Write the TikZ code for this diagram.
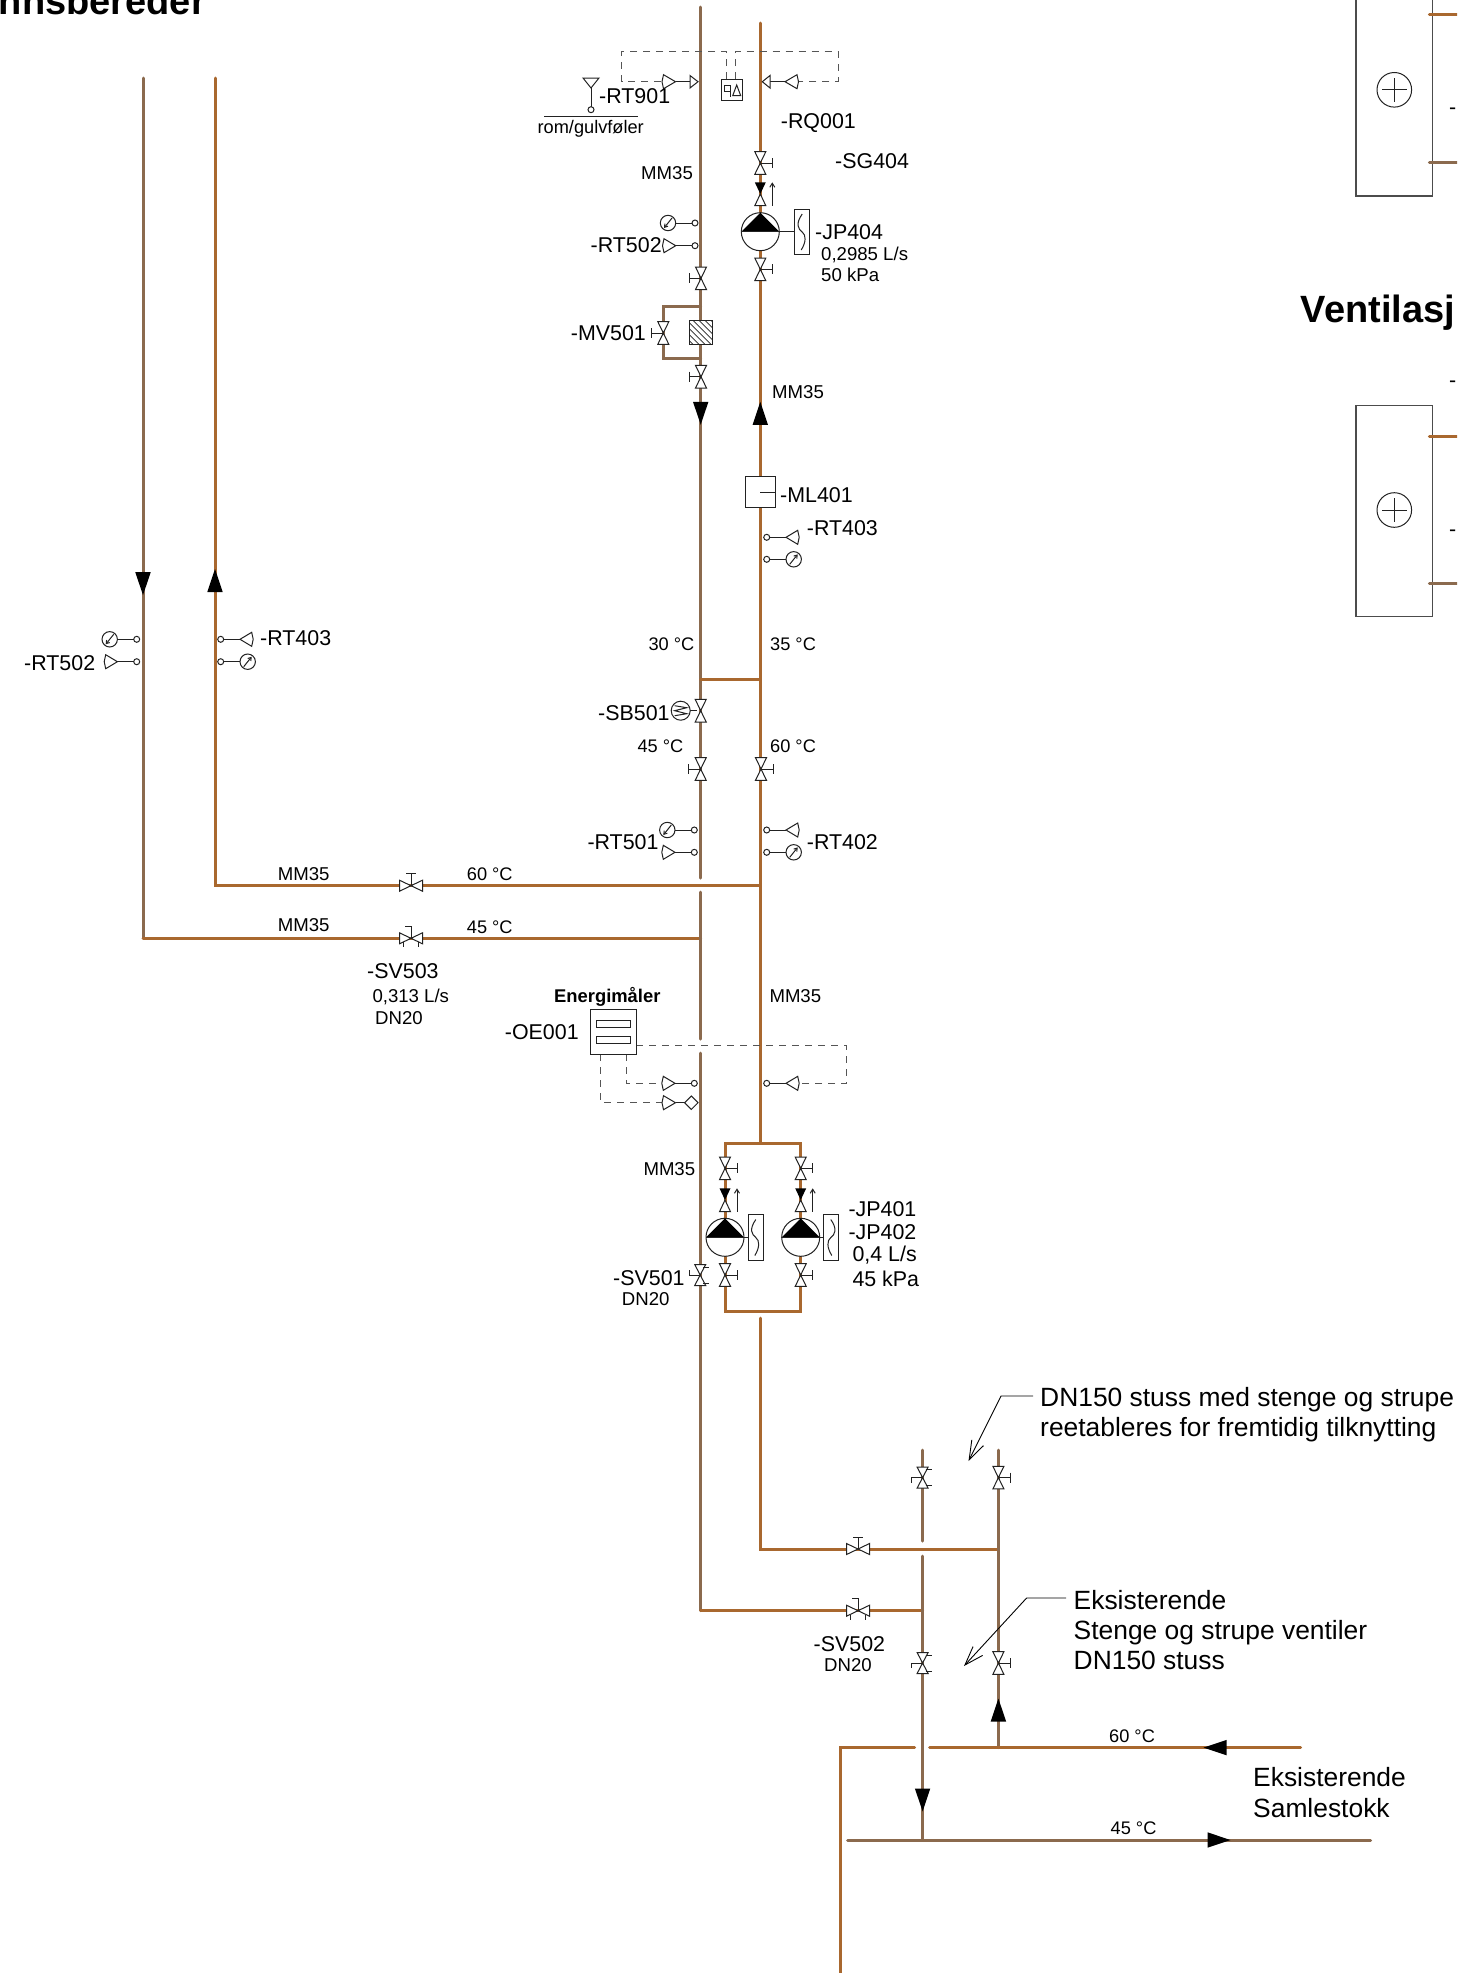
\documentclass[tikz,border=0pt]{standalone}
\usepackage{fontspec}
\setmainfont{Liberation Sans}
\usetikzlibrary{arrows.meta}
\definecolor{supply}{HTML}{A9682F}
\definecolor{ret}{HTML}{8B6A4E}
\definecolor{dashgray}{HTML}{555555}
\definecolor{symgray}{HTML}{222222}
\tikzset{
  pipeS/.style={draw=supply,line width=3pt,line cap=round,line join=miter},
  pipeR/.style={draw=ret,line width=3pt,line cap=round,line join=miter},
  sym/.style={draw=symgray,line width=1pt,line join=miter},
  signal/.style={draw=dashgray,line width=1pt,dash pattern=on 7pt off 6pt},
  leader/.style={draw=black,line width=0.9pt,-{Straight Barb[length=19pt,width=13pt]}},
  frame/.style={draw=black!70,line width=1.3pt},
  tA/.style={anchor=base west,inner sep=0pt,yshift=-7.5pt,font=\fontsize{21.4}{22}\selectfont},
  tB/.style={anchor=base west,inner sep=0pt,yshift=-6.7pt,font=\fontsize{18.6}{19}\selectfont},
  tC/.style={anchor=base west,inner sep=0pt,yshift=-6.5pt,font=\fontsize{18.2}{19}\selectfont},
  tD/.style={anchor=base west,inner sep=0pt,yshift=-9.3pt,font=\fontsize{26.4}{27}\selectfont},
  vvalve/.pic={
    \draw[sym,fill=white] (-5.5,-11.3)--(5.5,-11.3)--(-5.5,11.3)--(5.5,11.3)--cycle;
    \draw[sym] (0,0)--(12,0) (12,-5)--(12,5);
  },
  vbare/.pic={
    \draw[sym,fill=white] (-5.5,-11.3)--(5.5,-11.3)--(-5.5,11.3)--(5.5,11.3)--cycle;
  },
  vbal/.pic={
    \draw[sym,fill=white] (-5.5,-10.5)--(5.5,-10.5)--(-5.5,10.5)--(5.5,10.5)--cycle;
    \draw[sym] (0,0)--(-11,0)--(-11,5) (3,-8)--(9,-8) (3,8)--(9,8);
  },
  hvalve/.pic={
    \draw[sym,fill=white] (-11.5,-5.5)--(-11.5,5.5)--(11.5,-5.5)--(11.5,5.5)--cycle;
    \draw[sym] (0,0)--(0,-12) (-5,-12)--(5,-12);
  },
  hbal/.pic={
    \draw[sym,fill=white] (-11.5,-5.5)--(-11.5,5.5)--(11.5,-5.5)--(11.5,5.5)--cycle;
    \draw[sym] (0,0)--(0,-12)--(-6,-12) (-7.5,4)--(-7.5,9) (7.5,4)--(7.5,9);
  },
  chk/.pic={
    \fill[black] (-5.5,-11.7)--(5.5,-11.7)--(0,0)--cycle;
    \draw[sym,fill=white] (0,0)--(-5.5,11.7)--(5.5,11.7)--cycle;
    \draw[sym,-{Straight Barb[length=4pt,width=5pt]}] (12,11.7)--(12,-11.7);
  },
  pump/.pic={
    \draw[sym,fill=white] (0,0) circle (19);
    \fill[black] (-19,0)--(19,0)--(0,-19)--cycle;
    \draw[sym] (-19,0)--(19,0);
  },
  ctrlbox/.pic={
    \draw[sym,fill=white] (-7.7,-22.7) rectangle (7.7,22.7);
    \draw[sym] (0,-18) .. controls (-7,-8) and (-4,-3) .. (0,0) .. controls (4,3) and (4,10) .. (-1,18);
  },
  arrowfill/.pic={\fill[black] (-7.7,-11.5)--(7.7,-11.5)--(0,11.5)--cycle;},
  senstip/.pic={
    \draw[sym,fill=white] (0,0) circle (3);
    \draw[sym] (3,0)--(19.3,0);
    \draw[sym,fill=white] (19.3,0)--(31,-7)--(32.5,0)--(31,7)--cycle;
  },
  gauge/.pic={
    \draw[sym,fill=white] (0,0) circle (3);
    \draw[sym] (3,0)--(19.3,0);
    \draw[sym,fill=white] (27,0) circle (7.7);
    \draw[sym,-{Straight Barb[length=3pt,width=4pt]}] (23,5)--(31,-5);
  },
  sensprobe/.pic={
    \draw[sym,fill=white] (0,0)--(12,-7)--(13.5,0)--(12,7)--cycle;
  },
}
\begin{document}
\begin{tikzpicture}[x=1pt,y=-1pt]
\useasboundingbox (0,0) rectangle (1457,1973);
\clip (0,0) rectangle (1457,1973);

% named pipe points
\coordinate (lrT) at (143,78); \coordinate (lrB) at (143,938);
\coordinate (lsT) at (215,78); \coordinate (lsB) at (215,885.7);
\coordinate (mrT) at (700.7,7); \coordinate (mrA) at (700.7,878);
\coordinate (mrB) at (700.7,892); \coordinate (mrJ) at (700.7,938);
\coordinate (mrC) at (700.7,1039); \coordinate (mrD) at (700.7,1053);
\coordinate (mrE) at (700.7,1610.7);
\coordinate (msT) at (760.3,23); \coordinate (msX) at (760.3,885.7);
\coordinate (msM) at (760.3,679.3); \coordinate (mrM) at (700.7,679.3);
\coordinate (msP) at (760.3,1143);
\coordinate (paTL) at (725,1143); \coordinate (paBL) at (725,1311);
\coordinate (paTR) at (800.7,1143); \coordinate (paBR) at (800.7,1311);
\coordinate (msQ) at (760.3,1318); \coordinate (msR) at (760.3,1549);
\coordinate (byA) at (700.7,306); \coordinate (byB) at (663.3,306);
\coordinate (byC) at (663.3,358.3); \coordinate (byD) at (700.7,358.3);
\coordinate (stLT) at (922.6,1450); \coordinate (stLA) at (922.6,1541);
\coordinate (stLB) at (922.6,1556); \coordinate (stLJ) at (922.6,1610.7);
\coordinate (stLC) at (922.6,1840);
\coordinate (stRT) at (998.4,1450); \coordinate (stRJ) at (998.4,1549); \coordinate (stRB) at (998.4,1747.6);
\coordinate (h60A) at (840,1973); \coordinate (h60B) at (840,1747.6);
\coordinate (h60C) at (914.6,1747.6); \coordinate (h60D) at (929.7,1747.6); \coordinate (h60E) at (1300.5,1747.6);
\coordinate (h45A) at (847.6,1840); \coordinate (h45B) at (1370.5,1840);

% pipes
\draw[pipeR] (lrT)--(lrB);
\draw[pipeS] (lrB)--(mrJ);
\draw[pipeS] (lsT)--(lsB)--(msX);
\draw[pipeR] (mrT)--(mrA);
\draw[pipeR] (mrB)--(mrC);
\draw[pipeR] (mrD)--(mrE);
\draw[pipeS] (mrE)--(stLJ);
\draw[pipeS] (msT)--(msP);
\draw[pipeS] (mrM)--(msM);
\draw[pipeS] (paBL)--(paTL)--(paTR)--(paBR)--cycle;
\draw[pipeS] (msQ)--(msR)--(stRJ);
\draw[pipeR] (byA)--(byB)--(byC)--(byD);
\draw[pipeR] (stLT)--(stLA);
\draw[pipeR] (stLB)--(stLC);
\draw[pipeR] (stRT)--(stRB);
\draw[pipeS] (h60A)--(h60B)--(h60C);
\draw[pipeS] (h60D)--(h60E);
\draw[pipeR] (h45A)--(h45B);

% signal lines
\coordinate (sA) at (726.7,79); \coordinate (sB) at (726.7,51.7); \coordinate (sC) at (621.7,51.7); \coordinate (sD) at (621.7,81.7); \coordinate (sE) at (662,81.7);
\coordinate (sF) at (735,79); \coordinate (sG) at (735,51.7); \coordinate (sH) at (838,51.7); \coordinate (sI) at (838,81.7); \coordinate (sJ) at (797,81.7);
\draw[signal] (sA)--(sB)--(sC)--(sD)--(sE);
\draw[signal] (sF)--(sG)--(sH)--(sI)--(sJ);
\coordinate (eA) at (636,1045.7); \coordinate (eB) at (846.7,1045.7); \coordinate (eC) at (846.7,1083.3); \coordinate (eD) at (798,1083.3);
\draw[signal] (eA)--(eB)--(eC)--(eD);
\coordinate (eE) at (626.3,1054); \coordinate (eF) at (626.3,1083.3); \coordinate (eG) at (661.7,1083.3);
\draw[signal] (eE)--(eF)--(eG);
\coordinate (eH) at (600.7,1054); \coordinate (eI) at (600.7,1102.7); \coordinate (eJ) at (661.7,1102.7);
\draw[signal] (eH)--(eI)--(eJ);

% top sensors and dP cell
\pic[rotate=180] at (675.5,81.7) {sensprobe};
\coordinate (dpL) at (675.5,81.7); \coordinate (dpLh) at (690,81.7);
\draw[sym] (dpL)--(dpLh);
\draw[sym,fill=white] (690,75.5)--(698,81.7)--(690,88)--cycle;
\pic at (785,81.7) {sensprobe};
\coordinate (dpR) at (785,81.7); \coordinate (dpRh) at (770,81.7);
\draw[sym] (dpR)--(dpRh);
\draw[sym,fill=white] (770,75.5)--(762.3,81.7)--(770,88)--cycle;
\draw[sym,fill=white] (721.7,79.3) rectangle (742.3,100);
\draw[sym] (724,85)--(730,85)--(730,97) (724,85)--(724,91)--(730,91);
\draw[sym] (736.7,85)--(732.7,95.7)--(740.7,95.7)--cycle;
% room sensor
\draw[sym,fill=white] (583,78)--(599,78)--(591,88)--cycle;
\draw[sym] (591,88)--(591,106.7);
\draw[sym,fill=white] (591,109.7) circle (3);
\draw[sym] (544,116)--(638,116);

% JP404 group
\pic at (760.3,163) {vvalve};
\pic at (760.3,194) {chk};
\pic at (760.3,231.7) {pump};
\coordinate (jpA) at (779,231.7); \coordinate (jpB) at (794.5,231.7);
\draw[sym] (jpA)--(jpB);
\pic at (802.2,232) {ctrlbox};
\pic at (760.3,269.3) {vvalve};
% left of main
\pic[rotate=180] at (695,223) {gauge};
\pic[rotate=180] at (695,245.7) {senstip};
\pic[xscale=-1] at (701,278.3) {vvalve};
\pic[xscale=-1] at (663.3,333) {vvalve};
\draw[sym,fill=white] (689.3,320.7) rectangle (712.3,344.3);
\begin{scope}
\clip (689.3,320.7) rectangle (712.3,344.3);
\foreach \d in {-20,-14,...,26}
  \draw[sym,line width=0.7pt] (689.3+\d,320.7)--(689.3+\d+24,344.7);
\end{scope}
\pic[xscale=-1] at (701,376.7) {vvalve};
\pic at (700.7,413.3) {arrowfill};
\pic[rotate=180] at (760.3,413.3) {arrowfill};

% ML401
\draw[sym,fill=white] (745.7,476.7) rectangle (775.3,507.3);
\coordinate (mlA) at (760,492); \coordinate (mlB) at (775.3,492);
\draw[sym] (mlA)--(mlB);
\pic at (766.7,537.3) {senstip};
\pic at (766.7,559.3) {gauge};

% SB501
\pic at (700.7,710.7) {vbare};
\coordinate (sbA) at (690,710.7); \coordinate (sbB) at (697,710.7);
\draw[sym] (sbA)--(sbB);
\draw[sym,fill=white] (680.7,710.7) circle (9.5);
\draw[sym] (674.7,705.7)--(686.7,707.7)--(674.7,710.7)--(686.7,713.7)--(674.7,715.7);
\pic[xscale=-1] at (700.7,769) {vvalve};
\pic at (761,769) {vvalve};
\pic[rotate=180] at (694.3,830) {gauge};
\pic[rotate=180] at (694.3,852.3) {senstip};
\pic at (766.7,830) {senstip};
\pic at (766.7,852.3) {gauge};

% left riser symbols
\pic at (143,583.7) {arrowfill};
\pic[rotate=180] at (215,580.5) {arrowfill};
\pic[rotate=180] at (136.7,639.3) {gauge};
\pic[rotate=180] at (136.7,661.7) {senstip};
\pic at (220.7,639.3) {senstip};
\pic at (220.7,661.7) {gauge};
\pic at (411,885.7) {hvalve};
\pic at (411,938.3) {hbal};

% energy meter
\draw[sym,fill=white] (590.7,1009.3) rectangle (636,1054);
\draw[sym] (596.3,1020.3) rectangle (630.3,1027.3);
\draw[sym] (596.3,1036.3) rectangle (630.3,1043.3);
\pic[rotate=180] at (694.3,1083.3) {senstip};
\coordinate (emA) at (675.5,1102.7); \coordinate (emB) at (684.6,1102.7);
\draw[sym] (emA)--(emB);
\pic[rotate=180] at (675.5,1102.7) {sensprobe};
\draw[sym,fill=white] (691.3,1096)--(698,1102.7)--(691.3,1109.4)--(684.6,1102.7)--cycle;
\pic at (766.7,1083.3) {senstip};

% double pumps
\pic at (725,1168.3) {vvalve};
\pic at (800.7,1168.3) {vvalve};
\pic at (725,1200) {chk};
\pic at (800.7,1200) {chk};
\pic at (725,1237.3) {pump};
\pic at (800.7,1237.3) {pump};
\pic at (755.8,1237.5) {ctrlbox};
\pic[xscale=-1] at (830.8,1237.5) {ctrlbox};
\coordinate (pbA) at (744,1237.3); \coordinate (pbB) at (748,1237.3);
\coordinate (pbC) at (819.7,1237.3); \coordinate (pbD) at (823,1237.3);
\draw[sym] (pbA)--(pbB);
\draw[sym] (pbC)--(pbD);
\pic at (725,1275) {vvalve};
\pic at (800.7,1275) {vvalve};
\pic[yscale=-1] at (700.2,1275) {vbal};

% stuss valves
\pic at (922.6,1477.6) {vbal};
\pic at (998.4,1477.6) {vvalve};
\pic at (922.6,1663) {vbal};
\pic at (998.4,1663) {vvalve};
\pic at (858,1549) {hvalve};
\pic at (858,1610.7) {hbal};
\pic[rotate=180] at (998.4,1710) {arrowfill};
\pic at (922.6,1800) {arrowfill};
\pic[rotate=-90] at (1215,1747.6) {arrowfill};
\pic[rotate=90] at (1219,1840) {arrowfill};

% leaders
\coordinate (ldA) at (1033,1396); \coordinate (ldB) at (1001,1396); \coordinate (ldC) at (968.5,1461);
\draw[leader] (ldA)--(ldB)--(ldC);
\coordinate (ldD) at (1066,1598); \coordinate (ldE) at (1026.6,1598); \coordinate (ldF) at (964,1666);
\draw[leader] (ldD)--(ldE)--(ldF);

% units at the right edge
\draw[frame] (1356,-5) rectangle (1432.3,196);
\draw[frame] (1356,405.3) rectangle (1432.3,616.7);
\coordinate (u1a) at (1429.3,14.7); \coordinate (u1b) at (1460,14.7);
\coordinate (u1c) at (1429.3,162.4); \coordinate (u1d) at (1460,162.4);
\coordinate (u2a) at (1429.3,436); \coordinate (u2b) at (1460,436);
\coordinate (u2c) at (1429.3,583.7); \coordinate (u2d) at (1460,583.7);
\draw[pipeS] (u1a)--(u1b); \draw[pipeR] (u1c)--(u1d);
\draw[pipeS] (u2a)--(u2b); \draw[pipeR] (u2c)--(u2d);
\draw[sym] (1394.3,89.8) circle (17.3);
\draw[sym] (1382,89.8)--(1406.6,89.8) (1394.3,78)--(1394.3,101.6);
\draw[sym] (1394.3,510) circle (17.3);
\draw[sym] (1382,510)--(1406.6,510) (1394.3,498.2)--(1394.3,521.8);

% texts
\node[anchor=base east,inner sep=0pt,font=\fontsize{38}{39}\selectfont\bfseries] (tBereder) at (206,14) {nnsbereder};
\node[anchor=base west,inner sep=0pt,font=\fontsize{38}{39}\selectfont\bfseries] (tVent) at (1300.7,322) {Ventilasj};
\node[tA] (tD1) at (1449,107) {-};
\node[tA] (tD2) at (1449,380.4) {-};
\node[tA] (tD3) at (1449,528.6) {-};
\node[tA] (tRT901) at (599,96) {-RT901};
\node[anchor=base,inner sep=0pt,font=\fontsize{18.2}{19}\selectfont] (tRom) at (590.7,133) {rom/gulvføler};
\node[tA] (tRQ) at (780.7,120.7) {-RQ001};
\node[tA] (tSG) at (835,160.7) {-SG404};
\node[tB] (tMMa) at (641,172.7) {MM35};
\node[tA] (tRT502) at (590.5,245) {-RT502};
\node[tA] (tJP404) at (815,231.7) {-JP404};
\node[tB] (tFlowA) at (821,254) {0,2985 L/s};
\node[tB] (tKpaA) at (821,274.8) {50 kPa};
\node[tA] (tMV) at (570.7,333) {-MV501};
\node[tB] (tMMb) at (772,391.5) {MM35};
\node[tA] (tML) at (780,495) {-ML401};
\node[tA] (tRT403) at (806.7,527.7) {-RT403};
\node[tC] (t30) at (648.3,643.8) {30 °C};
\node[tC] (t35) at (770,643.8) {35 °C};
\node[tA] (tSB) at (598,712.8) {-SB501};
\node[tC] (t45a) at (637.3,745.7) {45 °C};
\node[tC] (t60a) at (770,745.7) {60 °C};
\node[tA] (tRT501) at (587.3,841.7) {-RT501};
\node[tA] (tRT402) at (806.7,841.7) {-RT402};
\node[tA] (tRT502b) at (24,662.8) {-RT502};
\node[tA] (tRT403b) at (260,637.7) {-RT403};
\node[tB] (tMMc) at (277.7,874) {MM35};
\node[tB] (tMMd) at (277.7,925) {MM35};
\node[tC] (t60b) at (466.7,874) {60 °C};
\node[tC] (t45b) at (466.7,926.7) {45 °C};
\node[tA] (tSV503) at (367,970.7) {-SV503};
\node[tB] (tFlowB) at (372.3,995.7) {0,313 L/s};
\node[tB] (tDNa) at (375,1017.7) {DN20};
\node[anchor=base,inner sep=0pt,yshift=-6.7pt,font=\fontsize{18.4}{19}\selectfont\bfseries] (tEnergi) at (607.3,995.7) {Energimåler};
\node[tB] (tMMe) at (769.3,995.7) {MM35};
\node[tA] (tOE) at (504.7,1032.3) {-OE001};
\node[tB] (tMMf) at (643.3,1168.3) {MM35};
\node[tA] (tJP401) at (848.3,1209) {-JP401};
\node[tA] (tJP402) at (848.3,1231.7) {-JP402};
\node[tA] (tFlowC) at (852.3,1254) {0,4 L/s};
\node[tA] (tKpaC) at (852.3,1279) {45 kPa};
\node[tA] (tSV501) at (613,1277.7) {-SV501};
\node[tB] (tDNb) at (621.7,1298.3) {DN20};
\node[tD] (tN1a) at (1040,1397) {DN150 stuss med stenge og strupe};
\node[tD] (tN1b) at (1040,1427) {reetableres for fremtidig tilknytting};
\node[tD] (tN2a) at (1073.5,1600) {Eksisterende};
\node[tD] (tN2b) at (1073.5,1630) {Stenge og strupe ventiler};
\node[tD] (tN2c) at (1073.5,1660) {DN150 stuss};
\node[tA] (tSV502) at (813.5,1643.6) {-SV502};
\node[tB] (tDNc) at (824,1664.5) {DN20};
\node[tC] (t60c) at (1109,1735.5) {60 °C};
\node[tC] (t45c) at (1110.5,1827.5) {45 °C};
\node[tD] (tN3a) at (1253,1777) {Eksisterende};
\node[tD] (tN3b) at (1253,1808.5) {Samlestokk};
\end{tikzpicture}
\end{document}
